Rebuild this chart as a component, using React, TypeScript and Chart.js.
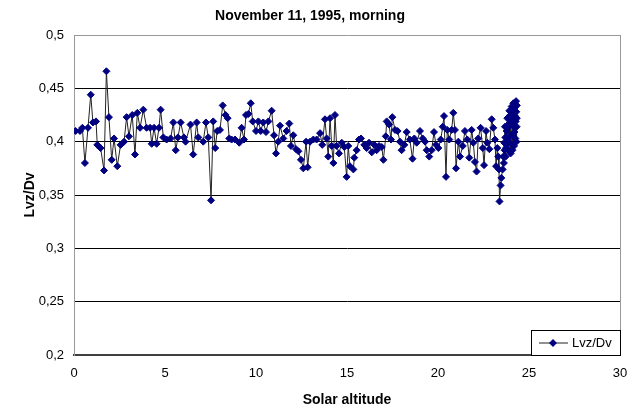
import React, { useEffect, useRef } from "react";
import { Chart, registerables } from "chart.js";

Chart.register(...registerables);

const chartTitle = "November 11, 1995, morning";
const seriesLabel = "Lvz/Dv";
const xAxisTitle = "Solar altitude";
const yAxisTitle = "Lvz/Dv";
const yTickLabels = ["0,2", "0,25", "0,3", "0,35", "0,4", "0,45", "0,5"];
const xTickLabels = ["0", "5", "10", "15", "20", "25", "30"];

const altitude = [
  0.09, 0.33, 0.46, 0.6, 0.77, 0.92, 1.04, 1.21, 1.28, 1.46, 1.65, 1.78, 1.92, 2.07, 2.2, 2.38,
  2.56, 2.75, 2.89, 3.02, 3.2, 3.35, 3.48, 3.63, 3.81, 3.99, 4.18, 4.27, 4.4, 4.54, 4.67, 4.76,
  4.91, 5.09, 5.31, 5.46, 5.59, 5.71, 5.86, 6.04, 6.13, 6.4, 6.55, 6.74, 6.83, 7.1, 7.25, 7.38,
  7.53, 7.65, 7.76, 7.87, 8.02, 8.17, 8.33, 8.44, 8.53, 8.66, 8.85, 9.08, 9.21, 9.34, 9.45, 9.58,
  9.71, 9.82, 10.0, 10.13, 10.26, 10.4, 10.55, 10.68, 10.86, 10.99, 11.1, 11.22, 11.32, 11.5,
  11.68, 11.83, 11.92, 12.05, 12.2, 12.33, 12.47, 12.6, 12.75, 12.84, 12.97, 13.15, 13.33, 13.52,
  13.64, 13.79, 13.88, 13.97, 14.07, 14.16, 14.25, 14.34, 14.43, 14.56, 14.71, 14.85, 14.98,
  15.07, 15.16, 15.35, 15.4, 15.53, 15.66, 15.77, 15.95, 16.08, 16.21, 16.36, 16.5, 16.63, 16.76,
  16.91, 17.0, 17.13, 17.18, 17.31, 17.42, 17.49, 17.64, 17.78, 17.91, 18.0, 18.15, 18.28, 18.45,
  18.6, 18.7, 18.83, 19.01, 19.16, 19.29, 19.38, 19.52, 19.65, 19.78, 19.89, 20.02, 20.15, 20.26,
  20.33, 20.44, 20.51, 20.62, 20.75, 20.84, 20.93, 20.99, 21.12, 21.21, 21.36, 21.48, 21.61,
  21.72, 21.85, 21.94, 22.03, 22.12, 22.21, 22.34, 22.46, 22.53, 22.64, 22.71, 22.82, 22.95,
  23.04, 23.13, 23.19, 23.26, 23.31, 23.35, 23.38, 23.44, 23.48, 23.55, 23.59, 23.62, 23.64,
  23.66, 23.68, 23.7, 23.72, 23.74, 23.77, 23.79, 23.81, 23.83, 23.86, 23.88, 23.9, 23.92, 23.94,
  23.96, 23.98, 23.99, 24.01, 24.03, 24.05, 24.07, 24.09, 24.1, 24.12, 24.14, 24.16, 24.18, 24.2,
  24.21, 24.23, 24.25, 24.27, 24.29, 24.3, 24.31, 24.32, 24.33, 24.33,
];

const ratio = [
  0.41, 0.41, 0.413, 0.38, 0.413, 0.444, 0.418, 0.419, 0.397, 0.394, 0.373, 0.466, 0.423, 0.383,
  0.403, 0.377, 0.397, 0.4, 0.423, 0.405, 0.425, 0.388, 0.427, 0.413, 0.43, 0.413, 0.413, 0.398,
  0.413, 0.398, 0.413, 0.43, 0.404, 0.402, 0.403, 0.418, 0.392, 0.404, 0.418, 0.404, 0.4, 0.416,
  0.388, 0.418, 0.404, 0.4, 0.418, 0.404, 0.345, 0.419, 0.394, 0.41, 0.411, 0.434, 0.425, 0.422,
  0.403, 0.402, 0.402, 0.399, 0.413, 0.402, 0.425, 0.426, 0.436, 0.419, 0.41, 0.419, 0.41, 0.418,
  0.409, 0.419, 0.429, 0.406, 0.389, 0.4, 0.415, 0.403, 0.41, 0.417, 0.396, 0.406, 0.393, 0.391,
  0.383, 0.375, 0.4, 0.376, 0.4, 0.402, 0.402, 0.408, 0.397, 0.421, 0.403, 0.386, 0.422, 0.396,
  0.38, 0.425, 0.396, 0.389, 0.399, 0.395, 0.367, 0.396, 0.377, 0.374, 0.385, 0.392, 0.402, 0.403,
  0.397, 0.394, 0.399, 0.39, 0.397, 0.392, 0.396, 0.395, 0.383, 0.405, 0.419, 0.416, 0.402, 0.423,
  0.411, 0.41, 0.4, 0.392, 0.397, 0.409, 0.402, 0.384, 0.403, 0.399, 0.41, 0.403, 0.4, 0.392,
  0.386, 0.392, 0.409, 0.397, 0.394, 0.402, 0.414, 0.424, 0.367, 0.411, 0.402, 0.411, 0.427,
  0.411, 0.375, 0.4, 0.386, 0.396, 0.41, 0.402, 0.385, 0.411, 0.399, 0.381, 0.372, 0.403, 0.413,
  0.394, 0.378, 0.41, 0.399, 0.393, 0.421, 0.413, 0.402, 0.377, 0.394, 0.386, 0.374, 0.344,
  0.359, 0.366, 0.374, 0.386, 0.38, 0.399, 0.392, 0.414, 0.404, 0.386, 0.394, 0.41, 0.397, 0.422,
  0.413, 0.402, 0.392, 0.417, 0.429, 0.405, 0.418, 0.425, 0.389, 0.398, 0.42, 0.433, 0.427,
  0.392, 0.407, 0.415, 0.436, 0.43, 0.396, 0.409, 0.432, 0.424, 0.403, 0.419, 0.438, 0.428, 0.4,
  0.414, 0.434, 0.422,
];

const FONT = "'Liberation Sans', Arial, sans-serif";
const MARKER = "#000080";

const legendBoxPlugin = {
  id: "legendBox",
  afterDraw(chart: any) {
    const { ctx, chartArea } = chart;
    const w = 89;
    const h = 25;
    const x0 = chartArea.right - w;
    const y0 = chartArea.bottom - h;
    ctx.save();
    ctx.fillStyle = "#ffffff";
    ctx.fillRect(x0, y0, w, h);
    ctx.strokeStyle = "#000000";
    ctx.lineWidth = 1;
    ctx.strokeRect(Math.round(x0) + 0.5, Math.round(y0) + 0.5, w, h);
    const ly = y0 + 13;
    ctx.strokeStyle = "#222222";
    ctx.beginPath();
    ctx.moveTo(x0 + 8, ly);
    ctx.lineTo(x0 + 37, ly);
    ctx.stroke();
    const cx = x0 + 22;
    ctx.fillStyle = MARKER;
    ctx.beginPath();
    ctx.moveTo(cx, ly - 4);
    ctx.lineTo(cx + 4, ly);
    ctx.lineTo(cx, ly + 4);
    ctx.lineTo(cx - 4, ly);
    ctx.closePath();
    ctx.fill();
    ctx.fillStyle = "#000000";
    ctx.font = `13px ${FONT}`;
    ctx.textBaseline = "middle";
    ctx.textAlign = "left";
    ctx.fillText(chart.data.datasets[0].label, x0 + 41, ly);
    ctx.restore();
  },
};

export default function App() {
  const ref = useRef<HTMLCanvasElement | null>(null);

  useEffect(() => {
    if (!ref.current) return;
    const points = altitude.map((x, i) => ({ x, y: ratio[i] }));
    const chart = new Chart(ref.current, {
      type: "line",
      data: {
        datasets: [
          {
            label: seriesLabel,
            data: points,
            borderColor: "#222222",
            borderWidth: 1,
            pointStyle: "rectRot",
            pointRadius: 3.5,
            pointBackgroundColor: MARKER,
            pointBorderColor: MARKER,
            pointBorderWidth: 1,
            tension: 0,
          },
        ],
      },
      options: {
        responsive: false,
        animation: false,
        events: [],
        layout: { padding: { left: 0, right: 19, top: 0, bottom: 0 } },
        plugins: {
          legend: { display: false },
          tooltip: { enabled: false },
          title: {
            display: true,
            text: chartTitle,
            color: "#000",
            font: { family: FONT, size: 14, weight: "bold" },
            padding: { top: 8, bottom: 10.2 },
          },
        },
        scales: {
          x: {
            type: "linear",
            min: 0,
            max: 30,
            afterFit: (s: any) => {
              s.height = 57;
            },
            ticks: {
              stepSize: 5,
              padding: 11,
              color: "#000",
              font: { family: FONT, size: 13 },
              callback: (v: any) => xTickLabels[Math.round(Number(v) / 5)] ?? "",
            },
            grid: {
              drawTicks: false,
              lineWidth: 1,
              color: (c: any) => (c.tick && c.tick.value === 30 ? "#999999" : "rgba(0,0,0,0)"),
            },
            border: { display: true, color: "#404040", width: 2 },
            title: {
              display: true,
              text: xAxisTitle,
              color: "#000",
              font: { family: FONT, size: 14, weight: "bold" },
              padding: { top: 0, bottom: 3 },
            },
          },
          y: {
            type: "linear",
            min: 0.2,
            max: 0.5,
            afterFit: (s: any) => {
              s.width = 74;
            },
            ticks: {
              stepSize: 0.05,
              padding: 10,
              color: "#000",
              font: { family: FONT, size: 13 },
              callback: (v: any) => yTickLabels[Math.round((Number(v) - 0.2) / 0.05)] ?? "",
            },
            grid: {
              drawTicks: false,
              lineWidth: 1,
              color: (c: any) => {
                const v = c.tick ? Math.round(c.tick.value * 100) / 100 : 0;
                if (v === 0.5) return "#999999";
                if (v === 0.2) return "rgba(0,0,0,0)";
                return "#000000";
              },
            },
            border: { display: true, color: "#999999", width: 1 },
            title: {
              display: true,
              text: yAxisTitle,
              color: "#000",
              font: { family: FONT, size: 14, weight: "bold" },
              padding: { top: 21.6, bottom: 0 },
            },
          },
        },
      },
      plugins: [legendBoxPlugin],
    });
    return () => chart.destroy();
  }, []);

  return (
    <div
      style={{
        position: "fixed",
        left: 0,
        top: 0,
        width: 639,
        height: 412,
        background: "#ffffff",
      }}
    >
      <canvas ref={ref} width={639} height={412} style={{ width: 639, height: 412 }} />
    </div>
  );
}
